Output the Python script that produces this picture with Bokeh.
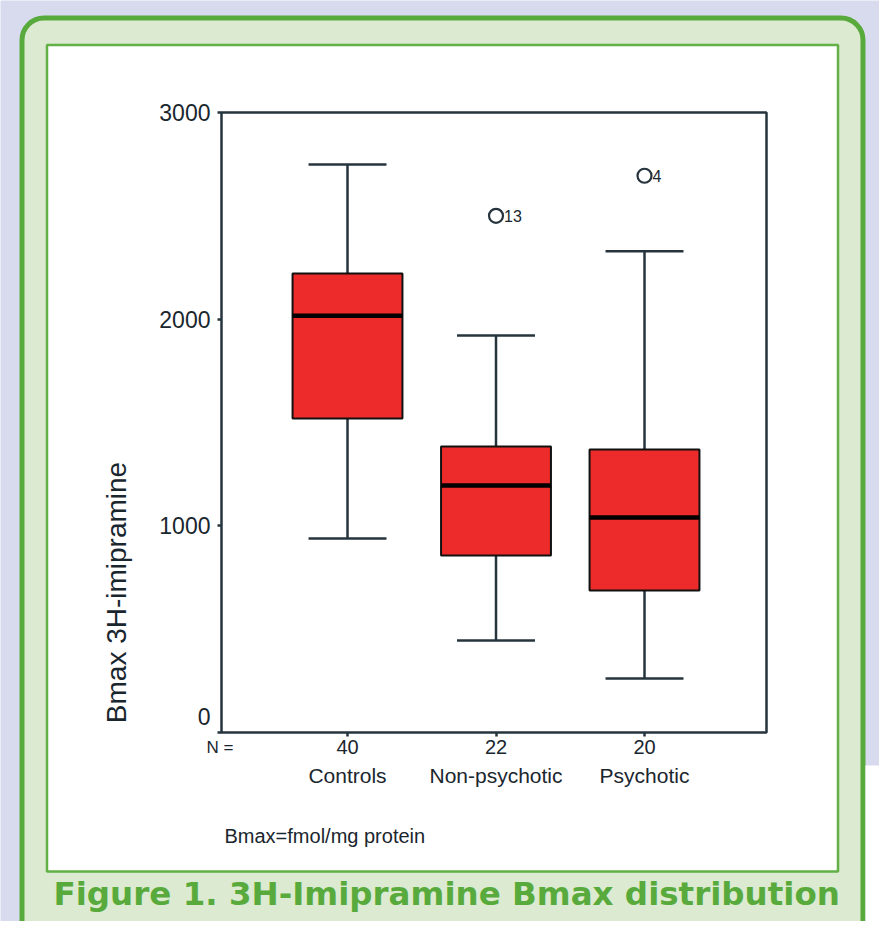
import math
from bokeh.plotting import figure
from bokeh.models import Range1d, FixedTicker, LinearAxis, BoxAnnotation, Label
from bokeh.embed import file_html
from bokeh.resources import INLINE
from bokeh.core.properties import value

# ---------------- data ----------------
groups = ["Controls", "Non-psychotic", "Psychotic"]
n_cases = [40, 22, 20]
lower_whisker = [939, 445, 261]
q1 = [1519, 856, 687]
median = [2017, 1195, 1040]
q3 = [2221, 1384, 1369]
upper_whisker = [2748, 1921, 2329]
outlier_group = [2, 3]
outlier_value = [2500, 2694]
outlier_case = ["13", "4"]
y_ticks = [0, 1000, 2000, 3000]

# ---------------- layout ----------------
W, H = 879, 921
# plot box inside the canvas (figure pixels)
FL, FW, FT, FH = 221, 545, 112, 620
X0, X1 = 0.1515, 3.8215          # data x at plot box left / right
Y0, Y1 = 0, 3000                 # data y at plot box bottom / top
SX = FW / (X1 - X0)
SY = FH / (Y1 - Y0)


def dx(px):
    """page pixel x -> data x"""
    return X0 + (px - 8 - FL) / SX


def dy(py):
    """page pixel y -> data y"""
    return Y0 + (FT + FH - (py - 8)) / SY


AX = "#25343d"
TXT = "#1a262e"
RED = "#ee2b2b"
GREEN = "#58aa3c"
FONT = "Liberation Sans"

p = figure(width=W, height=H, output_backend="svg", toolbar_location=None,
           x_range=Range1d(dx(8), dx(8 + W)), y_range=Range1d(dy(8 + H), dy(8)),
           x_axis_location=None, y_axis_location=None,
           min_border=0)
p.border_fill_color = "#d8dbee"
p.background_fill_color = "#d8dbee"
p.outline_line_color = None
p.grid.visible = False

# decorations (panel look)
p.add_layout(BoxAnnotation(left=dx(29.5), right=dx(870.5), top=dy(25.5), bottom=dy(1100),
                           fill_color="#dbead0", fill_alpha=1, line_color=GREEN,
                           line_alpha=1, line_width=5, border_radius=22, level="underlay"))
p.add_layout(BoxAnnotation(left=dx(873), right=dx(960), top=dy(773), bottom=dy(1100),
                           fill_color="white", fill_alpha=1, line_color=None, level="underlay"))
p.add_layout(BoxAnnotation(left=dx(54.5), right=dx(845.5), top=dy(52.5), bottom=dy(879),
                           fill_color="white", fill_alpha=1, line_color="#62b046",
                           line_alpha=1, line_width=2.5, level="underlay"))
# plot box
p.add_layout(BoxAnnotation(left=X0, right=X1, top=Y1, bottom=Y0,
                           fill_alpha=0, line_color=AX, line_alpha=1, line_width=2.5,
                           level="underlay"))

# y axis (ticks + labels only; the box draws the line)
ya = LinearAxis(ticker=FixedTicker(ticks=y_ticks), fixed_location=X0)
ya.major_label_overrides = {0: ""}
ya.axis_line_color = None
ya.minor_tick_line_color = None
ya.major_tick_in = 0
ya.major_tick_out = 4
ya.major_tick_line_width = 2.5
ya.major_tick_line_color = AX
ya.major_label_text_font = FONT
ya.major_label_text_font_size = "23px"
ya.major_label_text_color = TXT
ya.major_label_standoff = 7
p.add_layout(ya, "left")

xs = list(range(1, len(groups) + 1))

# x axes: counts, then category names
ax_n = LinearAxis(ticker=FixedTicker(ticks=xs), fixed_location=Y0,
                  major_label_overrides={x: str(n) for x, n in zip(xs, n_cases)})
ax_n.axis_line_color = None
ax_n.minor_tick_line_color = None
ax_n.major_tick_in = 0
ax_n.major_tick_out = 4
ax_n.major_tick_line_width = 2.5
ax_n.major_tick_line_color = AX
ax_n.major_label_text_font = FONT
ax_n.major_label_text_font_size = "20px"
ax_n.major_label_text_color = TXT
ax_n.major_label_standoff = 3
p.add_layout(ax_n, "below")

ax_g = LinearAxis(ticker=FixedTicker(ticks=xs), fixed_location=Y0,
                  major_label_overrides={x: g for x, g in zip(xs, groups)})
ax_g.minor_tick_line_color = None
ax_g.major_tick_line_color = None
ax_g.axis_line_color = None
ax_g.major_tick_out = 0
ax_g.major_label_text_font = FONT
ax_g.major_label_text_font_size = "21px"
ax_g.major_label_text_color = TXT
ax_g.major_label_standoff = 31
p.add_layout(ax_g, "below")

# box plot
BOX_W = 0.74
CAP_W = 0.525
p.segment(x0=xs, y0=q3, x1=xs, y1=upper_whisker, line_color=AX, line_width=2.5)
p.segment(x0=xs, y0=q1, x1=xs, y1=lower_whisker, line_color=AX, line_width=2.5)
p.segment(x0=[x - CAP_W / 2 for x in xs], y0=upper_whisker,
          x1=[x + CAP_W / 2 for x in xs], y1=upper_whisker, line_color=AX, line_width=2.5)
p.segment(x0=[x - CAP_W / 2 for x in xs], y0=lower_whisker,
          x1=[x + CAP_W / 2 for x in xs], y1=lower_whisker, line_color=AX, line_width=2.5)
p.vbar(x=xs, width=BOX_W, bottom=q1, top=q3, fill_color=RED, line_color="#111111", line_width=2)
p.segment(x0=[x - BOX_W / 2 for x in xs], y0=median,
          x1=[x + BOX_W / 2 for x in xs], y1=median, line_color="black", line_width=4.5)

# outliers
p.scatter(x=outlier_group, y=outlier_value, marker="circle", size=14,
          fill_color="white", line_color=AX, line_width=2.2)
p.text(x=outlier_group, y=outlier_value, text=outlier_case, x_offset=8,
       text_baseline="middle", text_align="left", text_font=value(FONT),
       text_font_size="16px", text_color=TXT)

# labels
p.add_layout(Label(x=dx(218), y=dy(724), text="0", text_align="right", text_baseline="middle",
                   text_font=FONT, text_font_size="23px", text_color=TXT))
p.add_layout(Label(x=dx(214), y=dy(755), text="N =", text_align="left", text_baseline="middle",
                   text_font=FONT, text_font_size="17px", text_color=TXT))
p.add_layout(Label(x=dx(124), y=dy(600), text="Bmax 3H-imipramine", angle=math.pi / 2,
                   text_align="center", text_baseline="middle",
                   text_font=FONT, text_font_size="28px", text_color=TXT))
p.add_layout(Label(x=dx(232), y=dy(843), text="Bmax=fmol/mg protein", text_align="left",
                   text_baseline="middle", text_font=FONT, text_font_size="20px", text_color=TXT))
p.add_layout(Label(x=dx(61), y=dy(901), text="Figure 1. 3H-Imipramine Bmax distribution",
                   text_align="left", text_baseline="middle", text_font="DejaVu Sans",
                   text_font_style="bold", text_font_size="32.5px", text_color=GREEN))

open("out.html", "w").write(file_html(p, INLINE))
